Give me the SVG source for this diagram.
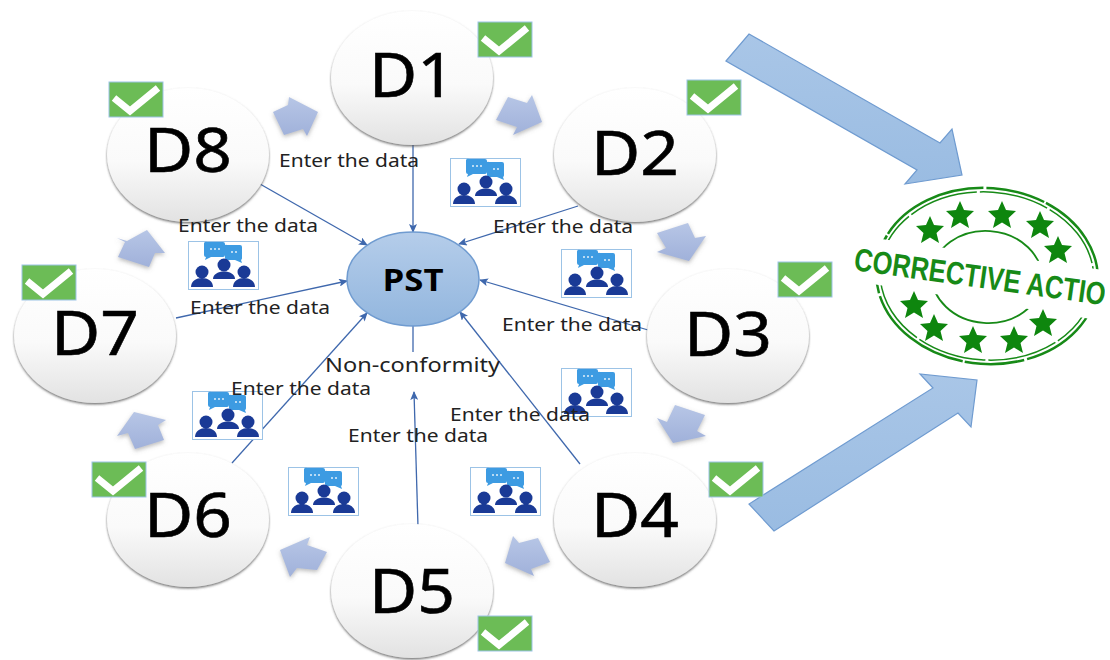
<svg xmlns="http://www.w3.org/2000/svg" width="1110" height="660" viewBox="0 0 1110 660">
<style>
.node{fill:url(#ng);filter:url(#sh)}
.dl{font:62px "Noto Sans","Liberation Sans",sans-serif;fill:#000;text-anchor:middle;stroke:#000;stroke-width:.6}
.lb{font:18px "Noto Sans","Liberation Sans",sans-serif;fill:#222}
.ln{stroke:#3f68ad;stroke-width:1.3;fill:none}
.stamp{fill:none;stroke:#178a17}
.star{fill:#0e860e}
.chev{fill:url(#cg);filter:url(#cs)}
.big{fill:url(#bg);stroke:#6f9bd0;stroke-width:1.200}
</style>
<defs>
<linearGradient id="ng" x1="0" y1="0" x2="0" y2="1"><stop offset="0" stop-color="#fff"/><stop offset=".55" stop-color="#fafafa"/><stop offset="1" stop-color="#e2e2e2"/></linearGradient>
<linearGradient id="pg" x1="0" y1="0" x2="0" y2="1"><stop offset="0" stop-color="#b5cdea"/><stop offset="1" stop-color="#92b6de"/></linearGradient>
<linearGradient id="bg" x1="0" y1="0" x2="0" y2="1"><stop offset="0" stop-color="#a9c6e7"/><stop offset="1" stop-color="#9abce2"/></linearGradient>
<linearGradient id="cg" x1="0" y1="0" x2="0" y2="1"><stop offset="0" stop-color="#b7c6e6"/><stop offset="1" stop-color="#a0b1da"/></linearGradient>
<filter id="sh" x="-10%" y="-10%" width="120%" height="125%"><feDropShadow dx="0" dy="1.500" stdDeviation="1.200" flood-color="#555" flood-opacity=".8"/></filter>
<filter id="cs" x="-20%" y="-20%" width="140%" height="140%"><feDropShadow dx="0" dy="2" stdDeviation="2" flood-color="#777" flood-opacity=".5"/></filter>
<marker id="ah" markerWidth="9" markerHeight="8" refX="8" refY="4" orient="auto" markerUnits="userSpaceOnUse"><path d="M0 0L9 4L0 8L2 4Z" fill="#3f68ad"/></marker>
<g id="chk"><rect width="54" height="35" fill="#6cbc56" stroke="#9cc3e6"/><path d="M5 16L21 29L49 6" fill="none" stroke="#fff" stroke-width="7"/></g>
<g id="ppl"><rect x=".5" y=".5" width="70" height="48" fill="#fff" stroke="#9cc3e6"/>
<path d="M19 1h16a2 2 0 0 1 2 2v11a2 2 0 0 1-2 2h-12l-6 3l1-3a2 2 0 0 1-2-2v-11a2 2 0 0 1 3-2z" fill="#3d9be2"/>
<path d="M39 4h13a2 2 0 0 1 2 2v11a2 2 0 0 1-1 2l1 3l-7-3h-8a2 2 0 0 1-2-2v-13a2 2 0 0 1 2-0z" fill="#3d9be2"/>
<g fill="#fff" opacity=".85"><circle cx="23" cy="8" r="1"/><circle cx="27" cy="8" r="1"/><circle cx="31" cy="8" r="1"/><circle cx="44" cy="11" r="1"/><circle cx="48" cy="11" r="1"/></g>
<g fill="#1a3a96"><circle cx="14" cy="31" r="6.500"/><path d="M3 46c0-12 22-12 22 0z"/><circle cx="36" cy="24" r="6.500"/><path d="M25 38c0-10 22-10 22 0z"/><circle cx="56" cy="31" r="6.500"/><path d="M45 46c0-12 22-12 22 0z"/></g></g>
<clipPath id="clip"><rect x="840" y="170" width="265" height="210"/></clipPath>
<polygon id="s" points="0,-14 4,-5 14,-4 6.500,3 9,13 0,7.500 -9,13 -6.500,3 -14,-4 -4,-5" class="star"/>
</defs>
<rect width="1110" height="660" fill="#fff"/>
<g id="connectors">
<path class="ln" d="M413 145L413 232" marker-end="url(#ah)"/>
<path class="ln" d="M578 206L459 244" marker-end="url(#ah)"/>
<path class="ln" d="M648 330L480 280" marker-end="url(#ah)"/>
<path class="ln" d="M580 464L460 312" marker-end="url(#ah)"/>
<path class="ln" d="M418 527L414 392" marker-end="url(#ah)"/>
<path class="ln" d="M413 326L413 352"/>
<path class="ln" d="M232 463L367 313" marker-end="url(#ah)"/>
<path class="ln" d="M176 318L347 281" marker-end="url(#ah)"/>
<path class="ln" d="M260 184L367 245" marker-end="url(#ah)"/>
<polygon class="chev" points="496,120 508,97 527,103 532,95 542,122 513,135 517,127"/>
<polygon class="chev" points="657,233 688,223 695,238 706,236 689,261 657,252 666,248"/>
<polygon class="chev" points="675,405 705,415 697,431 706,436 673,443 657,418 667,422"/>
<polygon class="chev" points="538,538 550,562 531,569 534,576 505,563 513,536 519,543"/>
<polygon class="chev" points="280,550 310,537 307,545 327,552 317,570 297,568 290,577"/>
<polygon class="chev" points="117,436 134,412 166,420 158,425 164,440 135,449 128,433"/>
<polygon class="chev" points="117,238 127,241 147,230 165,253 155,253 149,267 118,257 125,242"/>
<polygon class="chev" points="273,112 288,105 289,97 318,112 307,136 303,129 284,135"/>
<polygon class="big" points="726,61 749,34 940,143 952,129 962,175 905,184 917,170"/>
<polygon class="big" points="749,504 774,531 958,413 971,427 977,380 920,374 933,388"/>
</g>
<g id="PST"><ellipse cx="413" cy="279" rx="66" ry="47" fill="url(#pg)" stroke="#6f9bd0" stroke-width="1.500"/><text x="413" y="291" text-anchor="middle" textLength="61" lengthAdjust="spacingAndGlyphs" style="font:bold 31px 'Open Sans','Noto Sans',sans-serif">PST</text></g>
<g id="D1"><ellipse class="node" cx="412" cy="78" rx="81" ry="67"/><text class="dl" x="412" y="97" textLength="86" lengthAdjust="spacingAndGlyphs">D1</text><use href="#chk" x="478" y="22"/></g>
<g id="D2"><ellipse class="node" cx="635" cy="155" rx="81" ry="67"/><text class="dl" x="635" y="175" textLength="88" lengthAdjust="spacingAndGlyphs">D2</text><use href="#chk" x="687" y="80"/></g>
<g id="D3"><ellipse class="node" cx="728" cy="336" rx="81" ry="67"/><text class="dl" x="728" y="356" textLength="88" lengthAdjust="spacingAndGlyphs">D3</text><use href="#chk" x="778" y="262"/></g>
<g id="D4"><ellipse class="node" cx="635" cy="520" rx="81" ry="67"/><text class="dl" x="635" y="537" textLength="88" lengthAdjust="spacingAndGlyphs">D4</text><use href="#chk" x="709" y="462"/></g>
<g id="D5"><ellipse class="node" cx="412" cy="591" rx="81" ry="67"/><text class="dl" x="412" y="613" textLength="86" lengthAdjust="spacingAndGlyphs">D5</text><use href="#chk" x="478" y="616"/></g>
<g id="D6"><ellipse class="node" cx="188" cy="520" rx="81" ry="67"/><text class="dl" x="188" y="537" textLength="88" lengthAdjust="spacingAndGlyphs">D6</text><use href="#chk" x="92" y="462"/></g>
<g id="D7"><ellipse class="node" cx="95" cy="336" rx="81" ry="67"/><text class="dl" x="95" y="355" textLength="88" lengthAdjust="spacingAndGlyphs">D7</text><use href="#chk" x="22" y="265"/></g>
<g id="D8"><ellipse class="node" cx="188" cy="155" rx="81" ry="67"/><text class="dl" x="188" y="172" textLength="88" lengthAdjust="spacingAndGlyphs">D8</text><use href="#chk" x="109" y="82"/></g>
<g id="icons">
<use href="#ppl" x="450" y="158"/><use href="#ppl" x="561" y="249"/><use href="#ppl" x="561" y="368"/><use href="#ppl" x="470" y="467"/><use href="#ppl" x="288" y="467"/><use href="#ppl" x="192" y="391"/><use href="#ppl" x="188" y="241"/>
</g>
<g id="labels">
<text class="lb" x="279" y="167" textLength="140" lengthAdjust="spacingAndGlyphs">Enter the data</text>
<text class="lb" x="493" y="233" textLength="140" lengthAdjust="spacingAndGlyphs">Enter the data</text>
<text class="lb" x="502" y="331" textLength="140" lengthAdjust="spacingAndGlyphs">Enter the data</text>
<text class="lb" x="450" y="421" textLength="140" lengthAdjust="spacingAndGlyphs">Enter the data</text>
<text class="lb" x="348" y="442" textLength="140" lengthAdjust="spacingAndGlyphs">Enter the data</text>
<text class="lb" x="231" y="395" textLength="140" lengthAdjust="spacingAndGlyphs">Enter the data</text>
<text class="lb" x="190" y="314" textLength="140" lengthAdjust="spacingAndGlyphs">Enter the data</text>
<text class="lb" x="178" y="232" textLength="140" lengthAdjust="spacingAndGlyphs">Enter the data</text>
<text class="lb" x="325" y="372" textLength="175" lengthAdjust="spacingAndGlyphs" style="font-size:20px">Non-conformity</text>
</g>
<g id="stamp" clip-path="url(#clip)">
<g transform="rotate(4 987 276)">
<ellipse class="stamp" stroke-width="2.500" stroke-dasharray="110 3 60 2" cx="987" cy="276" rx="111" ry="88"/>
<ellipse class="stamp" stroke-width="1.500" cx="987" cy="276" rx="107" ry="84" stroke-dasharray="70 3"/>
<ellipse class="stamp" stroke-width="1.800" cx="987" cy="277" rx="55" ry="46"/>
</g>
<polygon points="860,236 1110,271 1110,322 860,282" fill="#fff"/>
<use href="#s" x="930" y="230"/><use href="#s" x="960" y="215"/><use href="#s" x="1002" y="215"/><use href="#s" x="1040" y="225"/><use href="#s" x="1058" y="250"/>
<use href="#s" x="914" y="305"/><use href="#s" x="934" y="328"/><use href="#s" x="973" y="340"/><use href="#s" x="1014" y="340"/><use href="#s" x="1043" y="323"/>
<text transform="translate(853 270) rotate(8)" textLength="272" lengthAdjust="spacingAndGlyphs" style="font:bold 32px 'Liberation Sans',sans-serif;fill:#178a17">CORRECTIVE ACTION</text>
</g>
</svg>
